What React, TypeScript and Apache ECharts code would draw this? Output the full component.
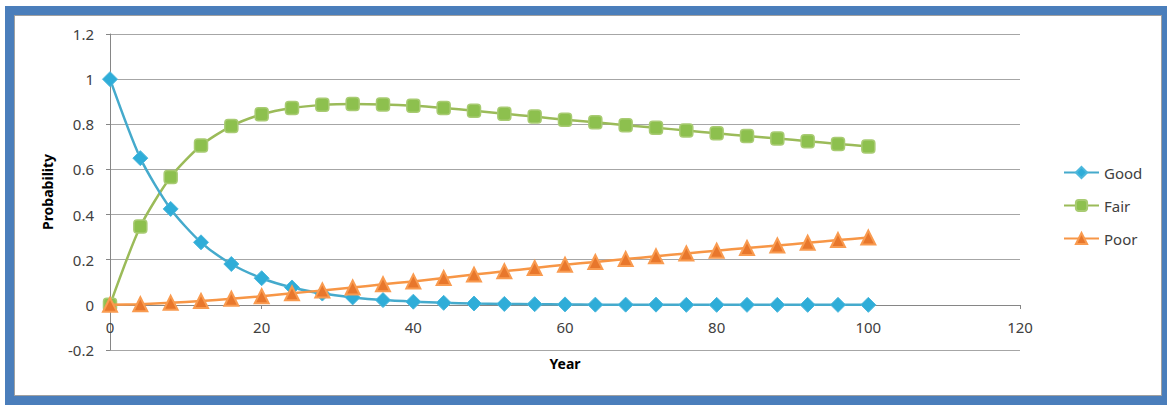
import React, { useEffect, useRef } from "react";
import * as echarts from "echarts";

const years = [0, 4, 8, 12, 16, 20, 24, 28, 32, 36, 40, 44, 48, 52, 56, 60, 64, 68, 72, 76, 80, 84, 88, 92, 96, 100];
const good = [1, 0.65, 0.425, 0.277, 0.181, 0.118, 0.077, 0.05, 0.033, 0.021, 0.014, 0.009, 0.006, 0.004, 0.003, 0.002, 0.001, 0.001, 0.001, 0, 0, 0, 0, 0, 0, 0];
const fair = [0, 0.347, 0.566, 0.706, 0.792, 0.844, 0.872, 0.886, 0.89, 0.888, 0.882, 0.872, 0.86, 0.847, 0.834, 0.82, 0.809, 0.796, 0.785, 0.772, 0.76, 0.748, 0.737, 0.725, 0.713, 0.702];
const poor = [0, 0.003, 0.009, 0.017, 0.027, 0.038, 0.051, 0.064, 0.077, 0.091, 0.104, 0.119, 0.134, 0.149, 0.163, 0.178, 0.19, 0.203, 0.215, 0.228, 0.24, 0.252, 0.263, 0.275, 0.287, 0.298];
const seriesNames = ["Good", "Fair", "Poor"];
const xTitle = "Year";
const yTitle = "Probability";

const FONT = "'Noto Sans', 'Open Sans', sans-serif";

export default function App() {
  const ref = useRef<HTMLDivElement>(null);
  useEffect(() => {
    if (!ref.current) return;
    const chart = echarts.init(ref.current, undefined, { renderer: "svg" });
    const pair = (arr: number[]) => years.map((y, i) => [y, arr[i]]);
    chart.setOption({
      animation: false,
      textStyle: { fontFamily: FONT },
      grid: { left: 110, right: 147, top: 34, bottom: 55, containLabel: false, outerBoundsMode: "none" },
      legend: {
        orient: "vertical",
        left: 1058,
        top: 160,
        itemWidth: 35,
        itemHeight: 14,
        itemGap: 18,
        data: seriesNames,
        textStyle: { color: "#404040", fontSize: 15, fontFamily: FONT },
      },
      xAxis: {
        type: "value",
        min: 0,
        max: 120,
        interval: 20,
        position: "bottom",
        offset: -45,
        name: xTitle,
        nameLocation: "middle",
        nameGap: 51,
        nameTextStyle: { fontWeight: "bold", fontSize: 14, color: "#000", fontFamily: FONT },
        axisLine: { show: true, onZero: false, lineStyle: { color: "#868686", width: 1 } },
        axisTick: { show: true, length: 4, inside: false, lineStyle: { color: "#868686" } },
        axisLabel: { color: "#404040", fontSize: 15, margin: 14, fontFamily: FONT },
        splitLine: { show: false },
      },
      yAxis: {
        type: "value",
        min: -0.2,
        max: 1.2,
        interval: 0.2,
        name: yTitle,
        nameLocation: "middle",
        nameGap: 56,
        nameRotate: 90,
        nameTextStyle: { fontWeight: "bold", fontSize: 14, color: "#000", fontFamily: FONT },
        axisLine: { show: true, onZero: false, lineStyle: { color: "#868686", width: 1 } },
        axisTick: { show: true, length: 4, lineStyle: { color: "#868686" } },
        axisLabel: {
          color: "#404040",
          fontSize: 15,
          margin: 16,
          fontFamily: FONT,
          formatter: (v: number) => String(parseFloat(v.toFixed(1))),
        },
        splitLine: { show: true, lineStyle: { color: "#A6A6A6", width: 1 } },
      },
      series: [
        {
          name: seriesNames[0],
          type: "line",
          data: pair(good),
          smooth: 0.25,
          symbol: "diamond",
          symbolSize: 15,
          lineStyle: { color: "#45AACC", width: 2.5 },
          itemStyle: { color: "#2FADD8", borderColor: "#4DB8DD", borderWidth: 1 },
          z: 4,
        },
        {
          name: seriesNames[1],
          type: "line",
          data: pair(fair),
          smooth: 0.25,
          symbol: "roundRect",
          symbolSize: 13,
          lineStyle: { color: "#9BBB59", width: 2.5 },
          itemStyle: { color: "#8DC04E", borderColor: "#A8CB72", borderWidth: 1.5 },
          z: 3,
        },
        {
          name: seriesNames[2],
          type: "line",
          data: pair(poor),
          smooth: 0.25,
          symbol: "triangle",
          symbolSize: 14,
          lineStyle: { color: "#F79646", width: 2.5 },
          itemStyle: { color: "#E8772C", borderColor: "#F99B50", borderWidth: 2 },
          z: 5,
        },
      ],
    });
    return () => chart.dispose();
  }, []);

  return (
    <div style={{ position: "fixed", left: 0, top: 0, width: 1167, height: 405, background: "#fff", overflow: "hidden" }}>
      <div style={{ position: "absolute", left: 5, top: 6, width: 1170, height: 410, background: "#4A7EBB" }} />
      <div
        style={{
          position: "absolute",
          left: 14,
          top: 15,
          width: 1146,
          height: 379,
          background: "#fff",
          border: "1px solid #A0A0A0",
        }}
      />
      <div ref={ref} style={{ position: "absolute", left: 0, top: 0, width: 1167, height: 405 }} />
    </div>
  );
}
